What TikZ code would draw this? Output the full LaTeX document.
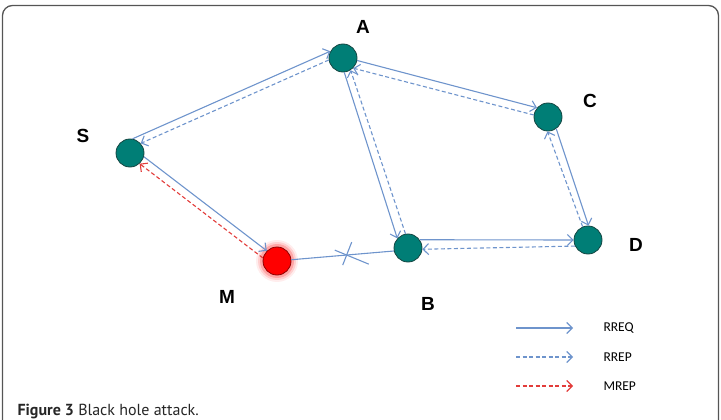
\documentclass[tikz,border=0pt]{standalone}
\usepackage{fontspec}
\setmainfont{Carlito}
\newfontfamily\capfont{PT Sans}
\newfontfamily\lblfont{Liberation Sans}
\usetikzlibrary{arrows.meta,positioning,calc}
\definecolor{nodeteal}{RGB}{0,126,118}
\definecolor{nodeedge}{RGB}{20,70,66}
\definecolor{linkblue}{RGB}{110,148,204}
\definecolor{mrepred}{RGB}{226,60,58}
\definecolor{framegray}{RGB}{85,85,85}

\begin{document}
\begin{tikzpicture}[
    x=1pt, y=-1pt,
    host/.style={circle, draw=nodeedge, line width=0.8pt, fill=nodeteal, minimum size=28pt, inner sep=0pt},
    attacker/.style={host, fill=red, draw=red!55!black},
    lbl/.style={font=\lblfont\fontsize{19}{19}\selectfont\bfseries},
    legend/.style={font=\fontsize{13.5}{13.5}\selectfont, anchor=west},
    link/.style={draw=linkblue, line width=1.1pt},
    req/.style={link, -{Straight Barb[length=5.5pt,width=11pt]}},
    rep/.style={req, dash pattern=on 4pt off 2.5pt},
    mrep/.style={rep, draw=mrepred}
]
    \useasboundingbox (0,0) rectangle (721,420);

    % Frame
    \draw[framegray, line width=1.3pt, rounded corners=10pt] (2.5,420) -- (2.5,5.5) -- (718.5,5.5) -- (718.5,420);

    % Glow of the malicious node
    \coordinate (mpos) at (277,261);
    \foreach \r/\o in {21/0.07, 19/0.12, 17/0.2}
        \fill[red, opacity=\o] (mpos) circle (\r pt);

    % Nodes
    \node[host] (S) at (130,153) {};
    \node[host] (A) at (343,58) {};
    \node[host] (C) at (548,117) {};
    \node[host] (B) at (408,248) {};
    \node[host] (D) at (588,240) {};
    \node[attacker] (M) at (mpos) {};

    % Labels
    \node[lbl] (lA) at (363,27) {A};
    \node[lbl] (lS) at (83,136) {S};
    \node[lbl] (lC) at (590,101) {C};
    \node[lbl] (lD) at (636,245) {D};
    \node[lbl] (lM) at (227,297) {M};
    \node[lbl] (lB) at (428,304) {B};

    % RREQ / RREP
    \draw[req] (S.80) -- (A.152);
    \draw[rep] (A.188) -- (S.42);
    \draw[req] (A.350) -- (C.140);
    \draw[rep] (C.172) -- (A.315);
    \draw[req] (A.275) -- (B.138);
    \draw[rep] (B.100) -- (A.302);
    \draw[req] (C.305) -- (D.88);
    \draw[rep] (D.112) -- (C.268);
    \draw[req] (B.35) -- (D.180);
    \draw[rep] (D.205) -- (B.355);

    % Black hole
    \draw[req] (S.345) -- (M.135);
    \draw[mrep] (M.168) -- (S.312);
    \draw[link] (M.5) -- (B.192) node[pos=0.53, coordinate] (cut) {};
    \draw[link] ([shift={(6,-13)}]cut) -- ([shift={(-3,10)}]cut);
    \draw[link] ([shift={(-11,-5)}]cut) -- ([shift={(23,9)}]cut);

    % Legend
    \node[legend] (rreq) at (600,328) {RREQ};
    \node[legend] (rrep) at (600,357) {RREP};
    \node[legend] (mrep) at (600,386) {MREP};
    \coordinate (rreq-s) at (516,328);
    \coordinate (rrep-s) at (516,357);
    \coordinate (mrep-s) at (516,386);
    \draw[req] (rreq-s) -- (rreq-s -| 573,0);
    \draw[rep] (rrep-s) -- (rrep-s -| 573,0);
    \draw[mrep] (mrep-s) -- (mrep-s -| 573,0);

    % Caption
    \node[anchor=base west, font=\capfont\fontsize{16}{16}\selectfont, text=black!85] (caption) at (14,415) {\textbf{Figure 3} Black hole attack.};
\end{tikzpicture}
\end{document}
